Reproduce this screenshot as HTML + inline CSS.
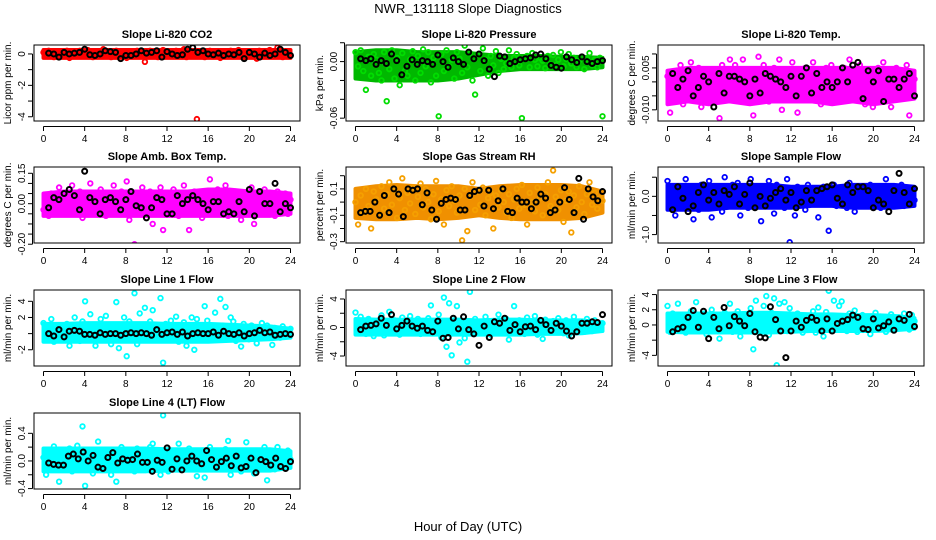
<!DOCTYPE html>
<html><head><meta charset="utf-8"><style>
html,body{margin:0;padding:0;background:#fff;}
svg{display:block;font-family:"Liberation Sans",sans-serif;}
</style></head><body>
<svg id="chart" width="936" height="540" viewBox="0 0 936 540" xmlns="http://www.w3.org/2000/svg">
<rect width="936" height="540" fill="#fff"/>
<text x="468" y="13" text-anchor="middle" font-size="13">NWR_131118  Slope Diagnostics</text>
<text x="468" y="531" text-anchor="middle" font-size="13">Hour of Day (UTC)</text>
</svg>
<script>
const xTicks = [0,4,8,12,16,20,24];
const bandHours = [0,2,4,6,8,10,12,14,16,18,20,22,24];
const titles = ["Slope Li-820 CO2","Slope Li-820 Pressure","Slope Li-820 Temp.","Slope Amb. Box Temp.","Slope Gas Stream RH","Slope Sample Flow","Slope Line 1 Flow","Slope Line 2 Flow","Slope Line 3 Flow","Slope Line 4 (LT) Flow"];
const yLabels = ["Licor ppm per min.","kPa per min.","degrees C per min.","degrees C per min.","percent per min.","ml/min per min.","ml/min per min.","ml/min per min.","ml/min per min.","ml/min per min."];
const yRanges = [[-4.27,0.57],[-0.063,0.0176],[-0.014,0.0132],[-0.194,0.181],[-0.31,0.266],[-1.22,0.767],[-4.01,5.4],[-5.4,5.26],[-5.4,4.6],[-0.406,0.694]];
const yTickVals = [[0,-1,-2,-3,-4],[0.02,0,-0.02,-0.04,-0.06],[0.01,0.005,0,-0.005,-0.01],[0.15,0.1,0.05,0,-0.05,-0.1,-0.15,-0.2],[0.2,0.1,0,-0.1,-0.2,-0.3],[0.5,0,-0.5,-1],[4,2,0,-2],[4,2,0,-2,-4],[4,2,0,-2,-4],[0.4,0.2,0,-0.2,-0.4]];
const yTickText = [["0","","-2","","-4"],["","0.00","","","-0.06"],["","0.005","","","-0.010"],["0.15","","","0.00","","","","-0.20"],["","0.1","","-0.1","","-0.3"],["","0.0","","-1.0"],["4","2","","-2"],["4","","0","","-4"],["4","2","0","","-4"],["0.4","","0.0","","-0.4"]];
const colors = ["#ff0000","#00dd00","#ff00ff","#ff00ff","#f5a000","#0000ff","#00ffff","#00ffff","#00ffff","#00ffff"];
const bandColors = ["#ff0000","#00b800","#ff00ff","#ff00ff","#f09000","#0000ff","#00ffff","#00ffff","#00ffff","#00ffff"];

// dense core envelope of each cloud (lower / upper), read at every 2 hours
const bandLo = [
 [-0.25,-0.25,-0.25,-0.25,-0.25,-0.25,-0.25,-0.25,-0.25,-0.25,-0.25,-0.25,-0.25],
 [-0.018,-0.02,-0.02,-0.02,-0.02,-0.018,-0.014,-0.01,-0.008,-0.008,-0.008,-0.008,-0.006],
 [-0.008,-0.007,-0.008,-0.007,-0.008,-0.007,-0.007,-0.007,-0.008,-0.007,-0.008,-0.007,-0.006],
 [-0.06,-0.06,-0.06,-0.06,-0.06,-0.06,-0.06,-0.06,-0.06,-0.06,-0.06,-0.06,-0.05],
 [-0.12,-0.13,-0.13,-0.12,-0.13,-0.12,-0.1,-0.12,-0.13,-0.13,-0.13,-0.12,-0.08],
 [-0.35,-0.35,-0.35,-0.3,-0.3,-0.3,-0.3,-0.25,-0.25,-0.3,-0.3,-0.3,-0.25],
 [-1.0,-1.0,-1.0,-1.0,-1.0,-1.0,-1.0,-1.0,-1.0,-0.9,-0.8,-0.7,-0.5],
 [-1.0,-1.0,-1.0,-1.0,-1.0,-1.0,-1.0,-1.0,-1.0,-0.9,-0.9,-0.8,-0.5],
 [-0.9,-1.0,-1.0,-1.0,-1.0,-1.0,-0.9,-0.8,-0.8,-0.8,-0.8,-0.7,-0.5],
 [-0.15,-0.15,-0.15,-0.15,-0.15,-0.15,-0.14,-0.14,-0.14,-0.14,-0.14,-0.14,-0.1]];
const bandHi = [
 [0.25,0.25,0.25,0.25,0.25,0.25,0.25,0.25,0.25,0.25,0.25,0.25,0.25],
 [0.01,0.012,0.012,0.01,0.01,0.01,0.008,0.006,0.006,0.006,0.005,0.005,0.004],
 [0.004,0.005,0.005,0.005,0.005,0.005,0.005,0.005,0.005,0.005,0.005,0.005,0.004],
 [0.05,0.06,0.06,0.06,0.06,0.06,0.06,0.06,0.07,0.07,0.06,0.06,0.05],
 [0.1,0.12,0.13,0.12,0.12,0.12,0.1,0.12,0.13,0.13,0.13,0.12,0.08],
 [0.3,0.3,0.3,0.3,0.3,0.3,0.25,0.25,0.25,0.3,0.3,0.3,0.25],
 [1.2,1.2,1.3,1.3,1.3,1.3,1.2,1.2,1.2,1.1,1.0,0.9,0.6],
 [1.2,1.1,1.1,1.1,1.1,1.1,1.0,1.1,1.1,1.0,1.0,1.0,0.7],
 [1.5,1.5,1.5,1.5,1.6,1.6,1.5,1.4,1.4,1.3,1.3,1.2,0.9],
 [0.18,0.18,0.18,0.18,0.18,0.18,0.17,0.17,0.17,0.17,0.17,0.17,0.14]];

const s1 = [0.1,-0.1,0.2,0,-0.2,0.1,0.15,-0.1,0,0.2,-0.25,0.1,0.05,-0.15,0.2,0,-0.1,0.25,0.1,-0.2,0,0.15,-0.05,0.3,-0.1,0.1,-0.2,0.05,0.2,-0.1,0,0.15,-0.25,0.1,0.05,-0.15,0.2,-0.05,0.1,-0.5,0,0.2,-0.1,0.15,-0.2,0.05,0.25,-0.1,0,0.1,-0.15,0.2,0.05,-0.1,0.3,-0.2,0.1,0,-0.1,-4.15,0.15,0.05,-0.2,0.1,0.2,-0.1,0,0.15,-0.25,0.1,0.05,-0.15,0.2,0,-0.1,0.25,0.1,-0.2,0,0.15,-0.05,0.1,-0.3,0.2,0,0.1,-0.15,0.25,0.05,-0.1,0.4,0.1,-0.2,0.05,0.15,-0.1];
const b1 = [0.05,0,-0.2,0.1,0,0.05,0.1,0.3,-0.05,-0.1,0,0.2,0.15,0.1,-0.3,-0.1,-0.1,0,0.2,0.05,0.1,0.2,-0.2,0.15,0,-0.1,-0.05,0.3,0.4,0.1,0.2,0,-0.05,0.05,-0.1,0,-0.05,0.1,-0.3,0.1,0,-0.2,0.05,-0.1,0,0.3,0.1,-0.1];
const s2 = [0.01,-0.005,0.012,-0.01,-0.03,0.005,-0.015,0.008,0.002,-0.012,-0.02,0.01,-0.042,-0.008,0.012,-0.018,0.004,-0.025,0.009,-0.01,-0.015,0.002,0.011,-0.02,0.006,-0.012,0.013,-0.005,0.01,-0.022,0.004,-0.015,-0.058,0.008,-0.01,0.012,-0.005,0.002,-0.018,0.01,0.003,-0.012,0.017,-0.006,0.009,-0.02,-0.035,0.007,-0.01,0.014,0.002,-0.015,0.006,-0.004,0.011,-0.012,0.003,-0.008,-0.002,0.012,-0.006,0.004,0.008,-0.004,-0.06,0.003,0.006,-0.006,0.009,0.002,-0.005,0.004,0.001,-0.007,0.006,-0.003,0.007,-0.004,0.002,0.01,-0.005,0.003,0.008,-0.002,0.004,-0.006,0.001,0.005,-0.008,0.003,0.009,-0.004,0.002,-0.006,0.004,-0.058];
const b2 = [0.003,0.001,0.003,-0.003,0.001,-0.002,0.008,0.001,-0.014,-0.005,0.002,-0.003,0.001,0.0,-0.003,0.007,0.0,-0.006,0.004,0.0,-0.003,0.01,0.003,0.008,0.001,-0.008,-0.016,0.006,0.005,-0.002,0.0,0.002,0.003,0.004,0.007,0.008,0.003,-0.004,-0.006,-0.007,0.005,0.002,-0.001,0.005,0.0,-0.002,0.0,0.001];
const s3 = [0.002,-0.011,0.003,-0.005,0.004,0.006,-0.008,0.001,-0.003,0.007,-0.006,0.002,0.005,-0.009,0.003,-0.002,0.004,-0.007,0.001,0.003,-0.013,0.006,-0.004,0.002,0.008,-0.003,0.006,0.001,-0.005,0.008,0.003,-0.006,0.004,-0.012,0.002,0.009,-0.004,0.006,0.001,-0.007,0.003,0.005,-0.003,0.008,-0.01,0.001,0.004,-0.006,0.007,0.002,-0.011,0.004,-0.002,0.005,0.001,-0.006,0.007,-0.003,0.004,-0.008,0.002,0.005,-0.004,0.006,0.001,-0.007,0.003,-0.002,0.005,-0.005,0.008,0.002,-0.006,0.003,0.006,-0.004,-0.008,0.002,0.004,-0.009,0.001,0.005,-0.003,0.007,-0.005,0.003,-0.009,0.002,0.005,-0.006,0.004,-0.002,0.006,-0.012,0.003,0.001];
const b3 = [0.003,-0.002,0.001,0.004,-0.005,-0.002,0.002,0.0,-0.009,0.003,-0.004,0.002,0.002,0.001,0.0,-0.005,0.001,-0.004,0.003,0.002,0.001,0.0,-0.002,0.002,-0.005,0.002,0.005,-0.004,0.003,-0.002,0.0,-0.002,0.0,0.005,0.0,0.006,0.007,-0.006,0.004,0.0,0.004,-0.007,0.001,0.001,-0.002,0.001,0.003,-0.005];
const s4 = [-0.03,0.03,-0.06,0.05,0.01,-0.04,0.08,-0.02,0.04,-0.05,0.02,0.09,-0.03,0.0,0.06,-0.07,0.03,-0.01,0.1,-0.04,0.05,-0.02,0.07,0.01,-0.06,0.04,-0.01,0.09,-0.05,0.02,0.06,-0.03,0.11,-0.08,0.03,-0.2,0.05,-0.02,0.08,-0.04,0.01,0.06,-0.1,0.03,-0.05,0.08,-0.13,0.02,0.05,-0.03,0.07,0.0,-0.06,0.04,0.09,-0.02,-0.13,0.03,0.06,-0.04,0.02,-0.07,0.05,-0.01,0.12,-0.05,0.03,0.07,-0.03,0.01,0.09,-0.06,0.04,-0.02,0.06,0.0,-0.08,0.05,0.02,-0.04,0.08,-0.1,0.03,0.06,-0.03,0.07,-0.05,0.01,0.04,-0.06,0.06,0.02,-0.03,0.05,-0.05,0.02];
const b4 = [-0.02,0.03,0.02,0.05,0.07,0.04,-0.03,0.16,0.03,0.01,-0.05,0.02,0.03,0.01,-0.03,0.02,0.06,-0.01,-0.02,-0.07,-0.02,0.03,0.02,-0.05,-0.05,0.04,0.0,0.02,0.04,0.02,0.0,-0.03,0.01,0.01,-0.05,-0.04,-0.05,0.01,-0.04,0.07,-0.06,0.06,0.0,0.0,0.1,-0.04,0.0,-0.02];
const s5 = [0.0,-0.17,0.05,-0.08,0.1,-0.03,-0.2,0.08,0.02,-0.1,0.12,-0.05,0.06,0.15,-0.02,0.09,-0.12,0.03,0.18,-0.06,0.07,-0.01,0.11,-0.09,0.04,0.14,-0.04,0.1,0.0,-0.13,0.06,0.16,-0.07,0.02,-0.17,0.09,-0.03,0.12,0.01,-0.08,0.05,-0.29,0.1,-0.22,0.04,0.15,-0.06,0.08,-0.02,0.11,-0.1,0.03,0.07,-0.2,0.05,-0.04,0.09,0.0,-0.08,0.06,-0.12,0.02,0.1,-0.05,0.13,-0.02,-0.17,0.07,0.0,-0.07,0.11,0.03,-0.1,0.06,0.15,-0.03,0.24,0.04,-0.06,0.09,-0.15,0.01,0.08,-0.23,0.05,-0.04,0.12,0.0,-0.09,0.06,0.15,-0.02,0.07,-0.05,0.03,0.01];
const b5 = [-0.08,-0.07,-0.07,0.0,-0.1,0.05,-0.08,0.1,0.06,-0.11,0.1,0.09,0.1,-0.02,0.07,-0.06,-0.13,-0.01,0.02,0.03,0.02,-0.06,-0.06,0.05,0.08,0.09,-0.03,0.09,-0.05,0.01,0.1,-0.07,-0.08,0.03,0.0,0.0,-0.05,0.0,0.06,0.03,-0.08,-0.06,0.0,0.11,0.02,-0.08,0.18,-0.13,0.1,0.04,0.01,0.08];
const s6 = [0.4,-0.3,0.1,-0.5,0.25,0.0,-0.2,0.45,-0.1,0.2,-0.6,0.1,-0.35,0.3,0.05,-0.15,0.4,-0.55,0.2,-0.05,0.15,-0.4,0.5,0.0,-0.25,0.3,-0.1,0.35,-0.5,0.1,0.2,-0.3,0.45,-0.15,0.05,0.25,-0.65,0.1,-0.2,0.4,0.0,-0.45,0.3,-0.1,0.2,-0.3,0.45,-1.2,0.1,-0.5,0.25,-0.05,0.15,-0.35,0.3,0.0,-0.2,0.2,-0.55,0.1,0.25,-0.15,-0.9,0.05,0.3,-0.25,0.15,-0.05,0.2,-0.3,0.35,0.0,-0.4,0.15,0.25,-0.1,0.05,-0.25,0.3,-0.15,0.2,0.0,-0.3,0.15,0.45,-0.2,0.1,-0.05,0.25,-0.15,0.3,-0.25,0.1,0.0,0.2,-0.1];
const b6 = [-0.35,0.25,-0.05,-0.4,-0.25,0.1,0.3,-0.1,0.1,-0.2,0.15,0.05,0.25,-0.2,0.05,0.35,-0.3,0.0,-0.25,-0.05,0.1,0.2,-0.1,0.1,-0.3,-0.15,0.15,-0.1,0.15,0.2,0.25,0.3,-0.05,-0.2,0.3,0.1,0.25,0.25,0.15,-0.3,-0.1,-0.2,-0.4,0.15,0.6,0.1,-0.2,0.2];
const s7 = [1.3,-0.5,0.8,1.8,-1.0,0.3,0.9,-0.8,0.5,1.2,-1.5,0.6,2.0,0.1,-0.9,1.5,4.0,-0.6,2.4,0.4,-1.5,0.9,1.8,-0.4,2.2,0.2,-1.3,1.0,3.9,-1.8,0.6,2.0,-2.8,1.5,0.0,5.0,-1.3,2.5,0.8,3.2,-0.3,1.5,2.9,-0.8,0.5,4.4,-3.6,1.2,-0.4,1.6,0.3,2.1,-1.0,0.9,1.4,-1.5,0.2,2.0,-2.0,1.8,0.6,-0.6,3.4,1.6,-0.8,0.3,2.6,-0.3,4.3,1.0,3.3,-0.5,2.0,1.5,-0.9,0.7,-1.6,1.2,0.5,-0.7,1.0,0.3,-1.2,0.8,1.3,-0.3,1.0,0.5,-1.4,0.7,0.2,-0.5,0.9,0.4,0.2,0.6];
const b7 = [0.0,-0.3,0.5,-0.4,0.3,0.4,0.3,-0.1,-0.1,-0.2,0.1,-0.1,0.0,0.0,-0.2,0.0,0.1,0.0,0.1,0.0,-0.2,0.5,-0.1,0.1,0.2,-0.1,0.2,-0.3,0.0,0.1,0.0,0.0,0.2,-0.2,0.3,0.0,-0.1,0.1,-0.3,0.0,0.1,0.4,0.1,0.2,-0.2,-0.1,0.0,-0.1];
const s8 = [2.1,-0.5,1.5,0.3,-0.9,1.2,0.5,-1.2,0.8,-0.3,1.7,-1.1,0.4,2.2,-0.7,1.0,0.2,-1.0,1.4,-0.4,0.9,1.6,-0.6,0.3,1.2,-0.9,0.6,-0.2,1.3,3.1,-0.8,0.5,1.8,-1.4,4.2,-2.7,3.4,-3.9,1.0,3.0,-2.1,0.5,-1.5,-4.8,5.0,-0.8,1.2,-0.3,0.8,-0.6,1.5,0.2,-1.0,0.9,-0.4,1.8,0.3,-0.7,1.2,-1.7,0.6,3.0,-0.5,1.0,0.2,-0.9,1.4,-0.3,0.7,1.6,-1.0,0.4,-1.6,1.1,0.3,-0.5,0.9,-0.2,1.3,0.5,-0.8,1.0,-1.1,0.6,1.5,-0.4,0.8,0.2,-0.6,1.2,0.3,-0.5,1.0,0.5,-0.3,0.6];
const b8 = [-0.3,0.2,0.3,0.5,1.3,0.3,1.8,-0.2,0.3,0.9,0.2,-0.1,0.2,-0.4,-0.6,0.9,-1.5,-1.4,1.3,-0.2,1.5,-0.3,-0.9,-2.5,0.2,-1.4,0.8,0.6,1.3,-0.4,0.4,-0.6,0.1,0.2,-0.3,1.0,0.4,-0.4,0.6,0.2,-0.5,-1.2,-0.6,0.6,0.6,0.8,0.7,1.8];
const s9 = [2.5,-0.9,1.5,0.3,2.8,-0.5,1.0,-1.0,0.6,1.8,-0.3,3.0,-0.8,0.9,1.5,-1.2,0.4,2.0,-0.6,1.2,-1.8,0.5,1.6,-0.2,2.8,-0.9,1.0,1.8,-1.5,0.3,1.4,-0.5,2.2,-3.2,3.2,1.0,-0.7,2.5,3.8,-1.3,1.6,3.5,-5.3,2.8,0.6,3.0,-0.8,2.2,1.0,-0.4,1.5,0.3,-1.0,1.2,-0.2,0.8,1.8,-1.0,2.3,0.6,-1.5,1.7,4.5,0.4,3.2,-0.6,2.5,3.1,0.9,-0.8,1.5,0.2,1.9,-0.9,0.7,1.3,-0.4,1.0,-1.2,0.5,1.6,-0.3,1.1,0.2,-0.9,0.8,1.4,-0.5,0.6,1.0,-0.2,1.5,0.4,-0.6,1.3,0.5];
const b9 = [-0.9,-0.5,-0.3,1.0,1.9,-0.3,1.8,-1.8,1.0,-0.5,2.3,-0.1,1.1,0.5,-0.1,1.5,-0.9,-1.6,-1.7,2.4,0.7,-0.8,-4.3,-0.8,0.5,-0.3,0.6,1.0,0.6,-0.8,0.8,-0.8,0.2,0.5,0.7,1.3,1.0,-0.5,-0.6,0.8,-0.4,-0.1,0.4,-0.7,0.8,0.6,1.4,-0.2];
const s10 = [0.05,-0.2,0.12,-0.05,0.21,0.08,-0.3,0.15,-0.1,0.03,0.18,-0.15,0.1,0.22,-0.06,0.5,-0.36,0.12,0.02,-0.18,0.15,0.28,-0.1,0.08,-0.03,0.16,-0.2,0.1,-0.3,0.05,0.2,-0.12,0.14,-0.02,0.1,-0.15,0.18,0.05,-0.1,0.12,-0.05,0.2,0.25,-0.1,0.08,-0.2,0.66,0.02,-0.15,0.15,0.04,-0.08,0.25,0.1,-0.12,0.05,0.18,-0.06,0.12,-0.22,0.0,0.15,-0.24,0.1,0.2,-0.08,0.05,0.14,-0.1,0.02,0.17,0.29,-0.2,0.08,-0.03,0.12,-0.15,0.06,0.27,-0.05,0.1,-0.18,0.14,0.02,-0.1,0.2,-0.28,0.08,0.05,-0.12,0.2,0.0,0.12,-0.08,0.15,0.02];
const b10 = [-0.03,-0.05,-0.06,-0.06,0.07,0.1,0.03,0.13,0.0,0.08,-0.09,-0.11,0.05,0.12,-0.03,0.03,0.01,0.02,0.1,-0.02,-0.02,-0.15,0.01,-0.02,0.19,-0.12,0.03,-0.13,0.0,0.07,0.0,-0.04,0.15,0.02,-0.09,-0.01,0.04,-0.07,0.07,-0.1,-0.08,0.04,-0.17,0.02,-0.01,-0.06,0.04,-0.08,-0.11,-0.01];
const seriesAll = [s1,s2,s3,s4,s5,s6,s7,s8,s9,s10];
const blackAll = [b1,b2,b3,b4,b5,b6,b7,b8,b9,b10];

const NS = "http://www.w3.org/2000/svg";
const svg = document.getElementById("chart");
const colLeft = [34,346,658], rowTop = [45,167,290,413], W = 266, H = 76;
function mk(tag, attrs, parent){ const e = document.createElementNS(NS, tag); for (const k in attrs) e.setAttribute(k, attrs[k]); parent.appendChild(e); return e; }

for (let p = 0; p < 10; p++) {
  const L = colLeft[p % 3], T = rowTop[Math.floor(p / 3)];
  const [y0, y1] = yRanges[p];
  const xs = h => L + 9.5 + h * (247 / 24);
  const ys = v => T + H - (v - y0) / (y1 - y0) * H;
  const g = mk("g", {}, svg);
  
  
  const t = mk("text", {x: L + W / 2, y: T - 7, "text-anchor": "middle", "font-size": "11", "font-weight": "bold"}, g);
  t.textContent = titles[p];
  
  
  const yl = mk("text", {transform: `translate(${L - 23},${T + H / 2}) rotate(-90)`, "text-anchor": "middle", "font-size": "10"}, g);
  yl.textContent = yLabels[p];
  
  
  const xa = mk("g", {stroke: "#000", "stroke-width": "1"}, g);
  
  
  mk("line", {x1: xs(0), x2: xs(24), y1: T + H + 5.5, y2: T + H + 5.5}, xa);
  xTicks.forEach(v => {
    mk("line", {x1: xs(v), x2: xs(v), y1: T + H + 5.5, y2: T + H + 10}, xa);
    const tx = mk("text", {x: xs(v), y: T + H + 21, "text-anchor": "middle", "font-size": "10", stroke: "none"}, xa);
    tx.textContent = v;
    
    
  });
  const ya = mk("g", {stroke: "#000", "stroke-width": "1"}, g);
  
  
  const tv = yTickVals[p];
  mk("line", {x1: L - 1.5, x2: L - 1.5, y1: ys(tv[0]), y2: ys(tv[tv.length - 1])}, ya);
  tv.forEach((v, i) => {
    mk("line", {x1: L - 1.5, x2: L - 6, y1: ys(v), y2: ys(v)}, ya);
    if (yTickText[p][i]) {
      const tx = mk("text", {transform: `translate(${L - 9},${ys(v)}) rotate(-90)`, "text-anchor": "middle", "font-size": "10", stroke: "none"}, ya);
      tx.textContent = yTickText[p][i];
      
      
    }
  });
  const clip = "clip" + p;
  const cp = mk("clipPath", {id: clip}, g);
  mk("rect", {x: L, y: T, width: W, height: H}, cp);
  const pg = mk("g", {"clip-path": `url(#${clip})`, fill: "none", "stroke-width": "1.6"}, g);
  // dense core band
  let d = "";
  bandHours.forEach((h, i) => { d += (i ? "L" : "M") + xs(h) + "," + ys(bandHi[p][i]); });
  for (let i = bandHours.length - 1; i >= 0; i--) d += "L" + xs(bandHours[i]) + "," + ys(bandLo[p][i]);
  const band = mk("path", {d: d + "Z", fill: bandColors[p], stroke: bandColors[p], "stroke-width": "4", "stroke-linejoin": "round"}, pg);
  
  
  const s = seriesAll[p];
  s.forEach((v, i) => {
    const c = mk("circle", {cx: xs(i * 24 / (s.length - 1)), cy: ys(v), r: 2.3, stroke: colors[p], "stroke-width": "1.8"}, pg);
    
    
  });
  const b = blackAll[p];
  b.forEach((v, i) => {
    const c = mk("circle", {cx: xs(0.5 + i * 23.5 / (b.length - 1)), cy: ys(v), r: 2.5, stroke: "#000", "stroke-width": "2"}, pg);
    
    
  });
  const box = mk("rect", {x: L, y: T, width: W, height: H, fill: "none", stroke: "#000", "stroke-width": "1"}, g);
  
  
}
</script>
</body></html>
